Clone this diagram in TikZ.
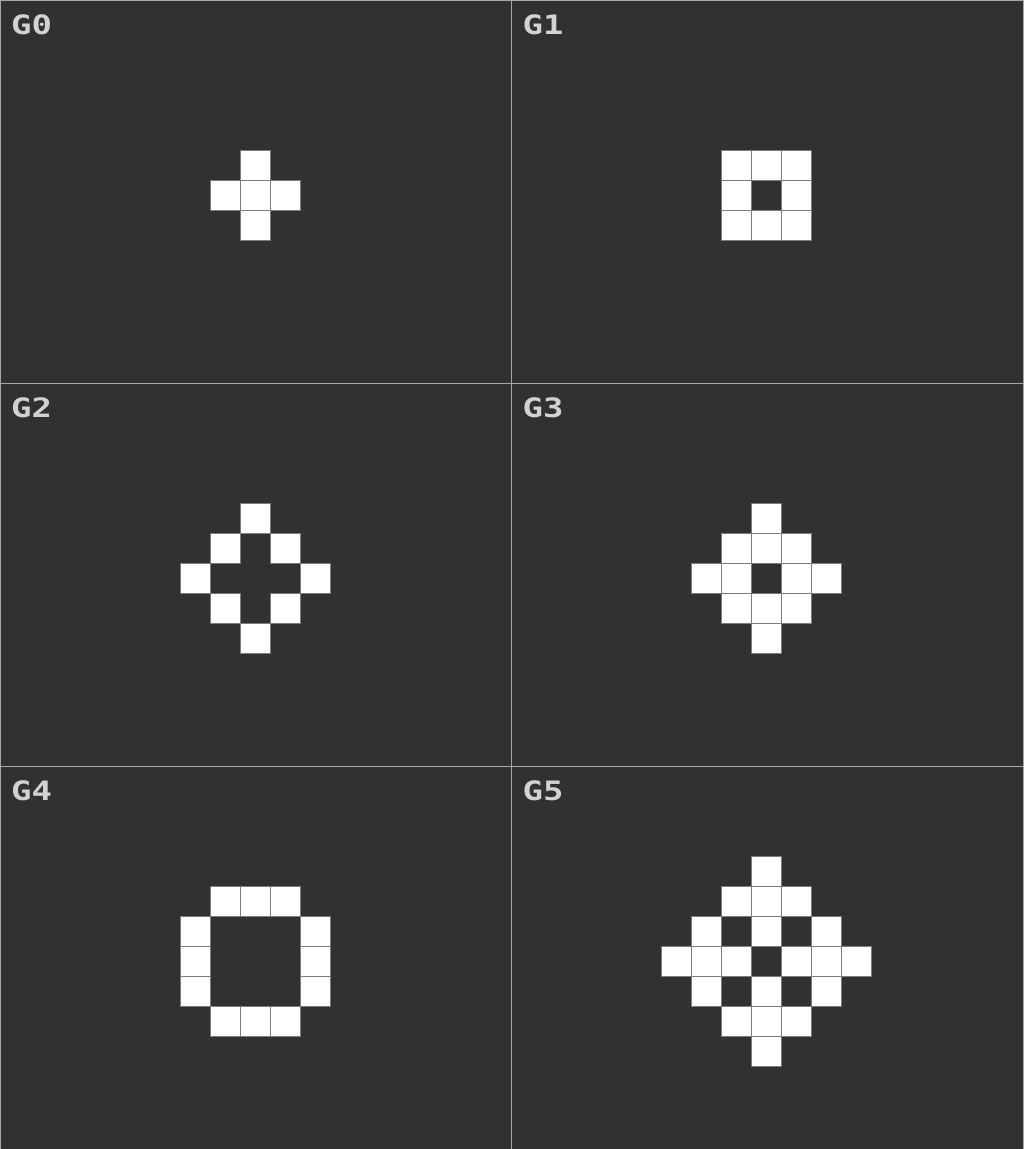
\documentclass[tikz,border=0pt]{standalone}
\usepackage{fontspec}
\newfontfamily\lblfont{DejaVu Sans Mono}[FakeStretch=1.27]
\definecolor{bg}{HTML}{313131}
\definecolor{edge}{HTML}{A8A8A8}
\definecolor{cellline}{HTML}{7C7C7C}
\definecolor{lbltext}{HTML}{D2D2D2}
\tikzset{
  panel/.style={fill=bg,draw=edge,line width=1pt},
  cell/.style={fill=white,draw=cellline,line width=1pt},
  lbl/.style={anchor=base west,inner sep=0pt,text=lbltext,
    font=\lblfont\bfseries\fontsize{26.7pt}{30pt}\selectfont}
}
\newcommand\gridpanel[5]{%
  \begin{scope}[shift={(#2,#3)}]
    \draw[panel] (0,0) rectangle (511.5,383);
    \node[lbl] (#1) at (11,34.7) {#4};
    \foreach \i/\j in {#5}
      \draw[cell] (240+30*\i,180+30*\j) rectangle ++(30,30);
  \end{scope}}
\begin{document}
\begin{tikzpicture}[x=1pt,y=-1pt]
\useasboundingbox (0,0) rectangle (1024,1149);
\fill[bg] (0,0) rectangle (1024,1149);
\gridpanel{g0}{0}{0}{G0}{0/-1,-1/0,0/0,1/0,0/1}
\gridpanel{g1}{511.5}{0}{G1}{-1/-1,0/-1,1/-1,-1/0,1/0,-1/1,0/1,1/1}
\gridpanel{g2}{0}{383}{G2}{0/-2,-1/-1,1/-1,-2/0,2/0,-1/1,1/1,0/2}
\gridpanel{g3}{511.5}{383}{G3}{0/-2,-1/-1,0/-1,1/-1,-2/0,-1/0,1/0,2/0,-1/1,0/1,1/1,0/2}
\gridpanel{g4}{0}{766}{G4}{-1/-2,0/-2,1/-2,-2/-1,2/-1,-2/0,2/0,-2/1,2/1,-1/2,0/2,1/2}
\gridpanel{g5}{511.5}{766}{G5}{0/-3,-1/-2,0/-2,1/-2,-2/-1,0/-1,2/-1,-3/0,-2/0,-1/0,1/0,2/0,3/0,-2/1,0/1,2/1,-1/2,0/2,1/2,0/3}
\end{tikzpicture}
\end{document}
